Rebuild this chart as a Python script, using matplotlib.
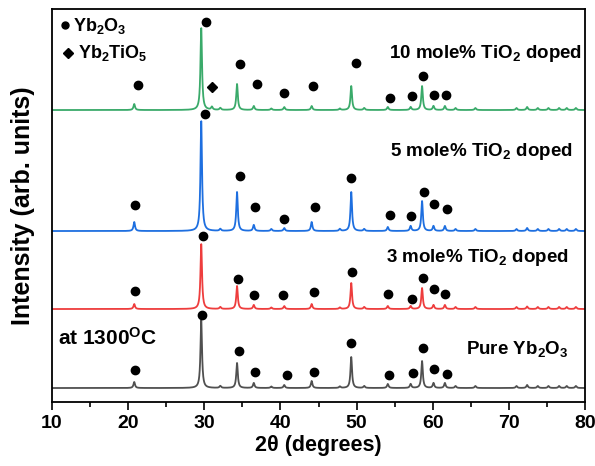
import numpy as np
import matplotlib
matplotlib.use('Agg')
import matplotlib.pyplot as plt

plt.rcParams['font.family'] = 'Liberation Sans'
plt.rcParams['font.weight'] = 'bold'
plt.rcParams['mathtext.fontset'] = 'custom'
plt.rcParams['mathtext.rm'] = 'Liberation Sans:bold'
plt.rcParams['mathtext.bf'] = 'Liberation Sans:bold'
plt.rcParams['mathtext.it'] = 'Liberation Sans:bold'

# peak positions (2theta) shared by all patterns
peaks = [20.8, 29.6, 32.1, 34.3, 36.5, 38.8, 40.5, 44.1, 47.8, 49.3, 51.0, 54.1,
         57.1, 58.6, 60.1, 61.6, 63.0, 65.6, 71.0, 72.4, 73.8, 75.2, 76.6, 77.6, 78.8]

# peak heights
h_pure = [6, 68, 2, 25, 5, 1.5, 3, 7, 1.5, 31, 2, 4, 4, 27, 5, 5, 2, 2, 2, 3, 2, 2, 2, 2, 2]
h_3 = [5, 65, 2, 23, 4, 1.5, 3, 5, 1.5, 26, 2, 3, 3, 21, 4, 4, 2, 2, 2, 2.5, 2, 2, 2, 2, 2]
h_5 = [9, 110, 2, 39, 6, 2, 3, 9, 2, 39, 2, 4, 5, 30, 5, 5, 2, 2, 2, 3, 2, 2, 2, 2, 2]
h_10 = [6, 82, 2, 26, 4, 1.5, 3, 4, 1.5, 24, 2, 3, 3, 24, 4, 4, 2, 2, 2, 3, 2, 2, 2, 2, 2]
# extra Yb2TiO5 reflection in 10 mole% sample
peak_ti = 31.0
h_ti = 3

offsets = [14, 93, 171, 292]
colors = ['#505050', '#ee3d3d', '#1e6fe0', '#3aaa6a']

# Yb2O3 markers (x, y) for each trace
dx_pure = [20.9, 29.7, 34.6, 36.7, 40.9, 44.4, 49.3, 54.3, 57.4, 58.7, 60.2, 61.9]
dy_pure = [32, 87, 51, 30, 27, 30, 59, 27, 29, 54, 33, 28]
dx_3 = [20.9, 29.8, 34.4, 36.5, 40.3, 44.4, 49.4, 54.1, 57.3, 58.7, 60.2, 61.6]
dy_3 = [111, 166, 123, 107, 107, 110, 130, 108, 103, 124, 113, 108]
dx_5 = [20.9, 30.1, 34.7, 36.7, 40.5, 44.5, 49.3, 54.4, 57.1, 58.9, 60.2, 61.9]
dy_5 = [197, 288, 226, 195, 183, 195, 224, 187, 186, 210, 198, 193]
dx_10 = [21.3, 30.2, 34.7, 36.9, 40.5, 44.3, 49.9, 54.4, 57.3, 58.7, 60.2, 61.7]
dy_10 = [317, 380, 338, 318, 309, 316, 339, 304, 306, 326, 307, 307]
# Yb2TiO5 marker
tx, ty = 31.0, 315

labels = ['Pure Yb$_\\mathbf{2}$O$_\\mathbf{3}$',
          '3 mole% TiO$_\\mathbf{2}$ doped',
          '5 mole% TiO$_\\mathbf{2}$ doped',
          '10 mole% TiO$_\\mathbf{2}$ doped']


def pattern(x, pos, hts, w=0.12):
    y = np.zeros_like(x)
    for p, h in zip(pos, hts):
        y += h * w**2 / ((x - p)**2 + w**2)
    return y


tt = np.linspace(10, 80, 4000)
fig = plt.figure(figsize=(5.95, 4.66), dpi=100)
ax = fig.add_axes([0.0874, 0.1373, 0.8958, 0.8433])

heights = [h_pure, h_3, h_5, h_10]
for i in range(4):
    y = pattern(tt, peaks, heights[i])
    if i == 3:
        y += pattern(tt, [peak_ti], [h_ti])
    ax.plot(tt, y + offsets[i], color=colors[i], lw=1.3)

for dx, dy in [(dx_pure, dy_pure), (dx_3, dy_3), (dx_5, dy_5), (dx_10, dy_10)]:
    ax.plot(dx, dy, 'o', color='black', ms=6, ls='none')
ax.plot([tx], [ty], 'D', color='black', ms=5.5, ls='none')

# legend-like markers
ax.plot([11.7], [377], 'o', color='black', ms=5)
ax.text(12.8, 371, 'Yb$_\\mathbf{2}$O$_\\mathbf{3}$', fontsize=13, va='baseline')
ax.plot([12.1], [349], 'D', color='black', ms=5.5)
ax.text(13.4, 344, 'Yb$_\\mathbf{2}$TiO$_\\mathbf{5}$', fontsize=13, va='baseline')

ax.text(79.6, 344, labels[3], fontsize=13.5, ha='right', va='baseline')
ax.text(78.4, 246, labels[2], fontsize=13.5, ha='right', va='baseline')
ax.text(77.8, 140, labels[1], fontsize=13.5, ha='right', va='baseline')
ax.text(77.8, 48, labels[0], fontsize=13.5, ha='right', va='baseline')
ax.text(10.8, 57, 'at 1300$^\\mathbf{O}$C', fontsize=15, ha='left', va='baseline')

ax.set_xlim(10, 80)
ax.set_ylim(0, 393)
ax.set_xticks(range(10, 81, 10))
ax.set_xticks(range(15, 80, 10), minor=True)
ax.set_yticks([])
ax.tick_params(axis='x', which='major', direction='out', length=6, width=1.2, labelsize=14)
ax.tick_params(axis='x', which='minor', direction='out', length=3.5, width=1.2)
for s in ax.spines.values():
    s.set_linewidth(1.3)
ax.set_xlabel('2θ (degrees)', fontsize=15.5, fontweight='bold', labelpad=2)
ax.set_ylabel('Intensity (arb. units)', fontsize=18, fontweight='bold', labelpad=12)

fig.savefig('out.png', dpi=100)
